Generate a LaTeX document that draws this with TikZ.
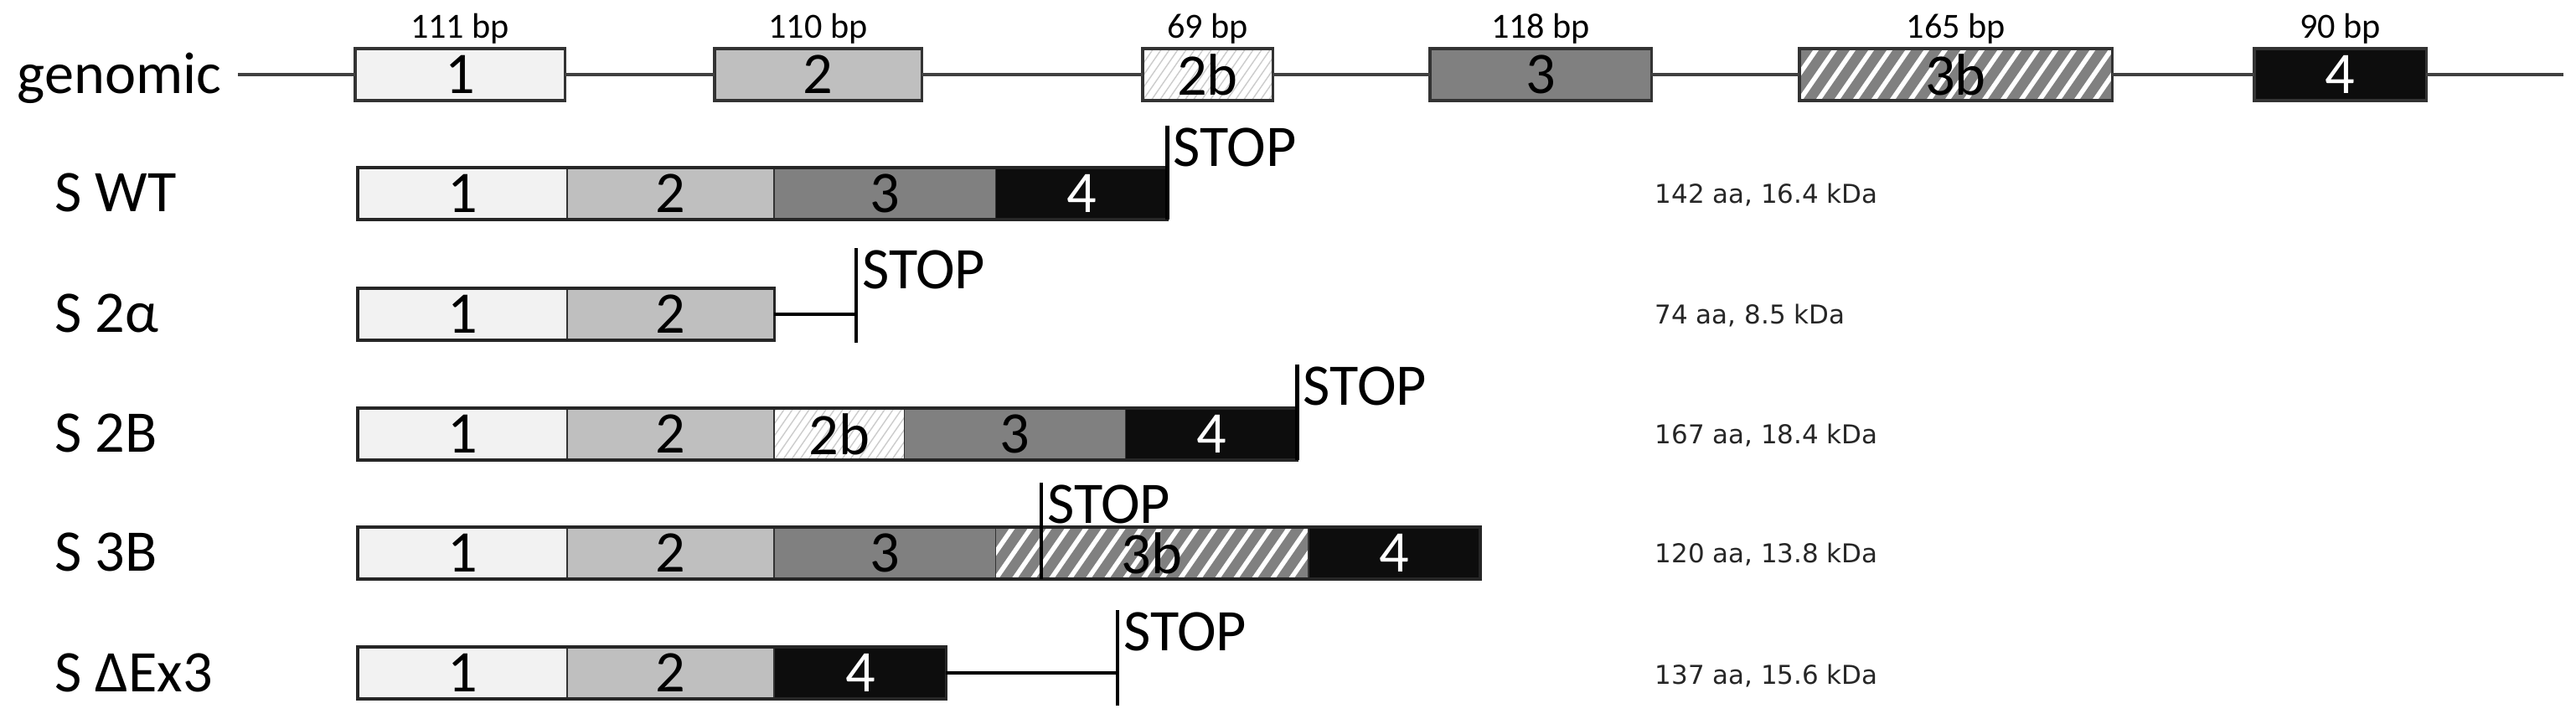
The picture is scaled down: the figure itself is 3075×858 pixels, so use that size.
\documentclass[tikz,border=0pt]{standalone}
\usepackage{fontspec}
\setmainfont{Carlito}
\newfontfamily\infofont{DejaVu Sans}

\definecolor{exonA}{HTML}{F2F2F2}
\definecolor{exonB}{HTML}{BFBFBF}
\definecolor{exonC}{HTML}{808080}
\definecolor{exonD}{HTML}{0D0D0D}
\definecolor{lineg}{HTML}{404040}

\tikzset{
  seg/.style={draw=black!80, line width=0.5pt, inner sep=0pt, outer sep=0pt,
    minimum height=0.62cm, anchor=west, font=\fontsize{20}{24}\selectfont},
  gene/.style={line width=0.9pt},
  ex1/.style={seg, fill=exonA, minimum width=2.50cm},
  ex2/.style={seg, fill=exonB, minimum width=2.47cm},
  ex2b/.style={seg, fill=white, minimum width=1.55cm, path picture={
      \foreach \k in {-6,...,16}
        \draw[gray!40, line width=0.4pt]
          ([xshift=\k*0.1cm]path picture bounding box.south west) -- ++(0.45cm,0.65cm);}},
  ex3/.style={seg, fill=exonC, minimum width=2.64cm},
  ex3b/.style={seg, fill=exonC, minimum width=3.73cm, path picture={
      \foreach \k in {-3,...,18}
        \draw[white, line width=1.6pt]
          ([xshift=\k*0.22cm]path picture bounding box.south west) -- ++(0.45cm,0.65cm);}},
  ex4/.style={seg, fill=exonD, text=white, minimum width=2.05cm},
  frame/.style={draw=black!85, line width=1pt},
  backbone/.style={draw=lineg, line width=1.1pt},
  conn/.style={draw=black, line width=1.1pt},
  stopline/.style={draw=black, line width=1.3pt},
  stoptext/.style={anchor=north west, inner sep=0pt, xshift=0.05cm, yshift=-0.01cm,
    font=\fontsize{20}{24}\selectfont},
  rowlabel/.style={anchor=base west, inner sep=0pt, font=\fontsize{20}{24}\selectfont},
  bplabel/.style={anchor=base, inner sep=0pt, font=\fontsize{12}{14}\selectfont},
  info/.style={anchor=west, inner sep=0pt, text=black!85, font=\infofont\fontsize{8.8}{10}\selectfont},
}

\begin{document}
\begin{tikzpicture}[x=0.01cm, y=-0.01cm]
    \useasboundingbox (0,0) rectangle (3075,858);

    % genomic row: backbone and exons
    \coordinate (gl) at (284,89);
    \coordinate (gr) at (3060,89);
    \node[rowlabel] (genomic) at (20,112) {genomic};
    \node[ex1, gene] (g1) at (424,89) {1};
    \node[ex2, gene] (g2) at (853,89) {2};
    \node[ex2b, gene] (g2b) at (1364,89) {2b};
    \node[ex3, gene] (g3) at (1707,89) {3};
    \node[ex3b, gene] (g3b) at (2148,89) {3b};
    \node[ex4, gene] (g4) at (2691,89) {4};
    \draw[backbone] (gl) -- (g1) (g1) -- (g2) (g2) -- (g2b) (g2b) -- (g3)
        (g3) -- (g3b) (g3b) -- (g4) (g4) -- (gr);

    % exon lengths above the genomic exons
    \foreach \g/\len in {g1/111, g2/110, g2b/69, g3/118, g3b/165, g4/90}
        \node[bplabel] (bp-\g) at ([yshift=0.12cm]\g.north) {\len{} bp};

    % S WT
    \node[rowlabel] (lab-wt) at (65,253) {S WT};
    \node[ex1] (wt-1) at (427,231) {1};
    \node[ex2] (wt-2) at (wt-1.east) {2};
    \node[ex3] (wt-3) at (wt-2.east) {3};
    \node[ex4] (wt-4) at (wt-3.east) {4};
    \draw[frame] (wt-1.north west) rectangle (wt-4.south east);
    \draw[stopline] (wt-4.south east) -- ([yshift=0.5cm]wt-4.north east)
        node[stoptext] (stop-wt) {STOP};
    \node[info] (info-wt) at (1975,233) {142 aa, 16.4 kDa};

    % S 2alpha
    \node[rowlabel] (lab-alpha) at (65,397) {S 2α};
    \node[ex1] (alpha-1) at (427,375) {1};
    \node[ex2] (alpha-2) at (alpha-1.east) {2};
    \draw[frame] (alpha-1.north west) rectangle (alpha-2.south east);
    \coordinate (alpha-stop) at (1022,375);
    \draw[conn] (alpha-2.east) -- (alpha-stop);
    \draw[stopline] ([yshift=-0.03cm]alpha-stop |- alpha-2.south)
        -- ([yshift=0.48cm]alpha-stop |- alpha-2.north)
        node[stoptext] (stop-alpha) {STOP};
    \node[info] (info-alpha) at (1975,377) {74 aa, 8.5 kDa};

    % S 2B
    \node[rowlabel] (lab-twoB) at (65,540) {S 2B};
    \node[ex1] (twoB-1) at (427,518) {1};
    \node[ex2] (twoB-2) at (twoB-1.east) {2};
    \node[ex2b] (twoB-2b) at (twoB-2.east) {2b};
    \node[ex3] (twoB-3) at (twoB-2b.east) {3};
    \node[ex4] (twoB-4) at (twoB-3.east) {4};
    \draw[frame] (twoB-1.north west) rectangle (twoB-4.south east);
    \draw[stopline] (twoB-4.south east) -- ([yshift=0.52cm]twoB-4.north east)
        node[stoptext] (stop-twoB) {STOP};
    \node[info] (info-twoB) at (1975,520) {167 aa, 18.4 kDa};

    % S 3B
    \node[rowlabel] (lab-threeB) at (65,682) {S 3B};
    \node[ex1] (threeB-1) at (427,660) {1};
    \node[ex2] (threeB-2) at (threeB-1.east) {2};
    \node[ex3] (threeB-3) at (threeB-2.east) {3};
    \node[ex3b] (threeB-3b) at (threeB-3.east) {3b};
    \node[ex4] (threeB-4) at (threeB-3b.east) {4};
    \draw[frame] (threeB-1.north west) rectangle (threeB-4.south east);
    \coordinate (threeB-stop) at (1243,660);
    \draw[stopline] (threeB-stop |- threeB-3b.south)
        -- ([yshift=0.53cm]threeB-stop |- threeB-3b.north)
        node[stoptext] (stop-threeB) {STOP};
    \node[info] (info-threeB) at (1975,662) {120 aa, 13.8 kDa};

    % S dEx3
    \node[rowlabel] (lab-dex) at (65,825) {S ΔEx3};
    \node[ex1] (dex-1) at (427,803) {1};
    \node[ex2] (dex-2) at (dex-1.east) {2};
    \node[ex4] (dex-4) at (dex-2.east) {4};
    \draw[frame] (dex-1.north west) rectangle (dex-4.south east);
    \coordinate (dex-stop) at (1334,803);
    \draw[conn] (dex-4.east) -- (dex-stop);
    \draw[stopline] ([yshift=-0.08cm]dex-stop |- dex-4.south)
        -- ([yshift=0.44cm]dex-stop |- dex-4.north)
        node[stoptext] (stop-dex) {STOP};
    \node[info] (info-dex) at (1975,807) {137 aa, 15.6 kDa};
\end{tikzpicture}
\end{document}
